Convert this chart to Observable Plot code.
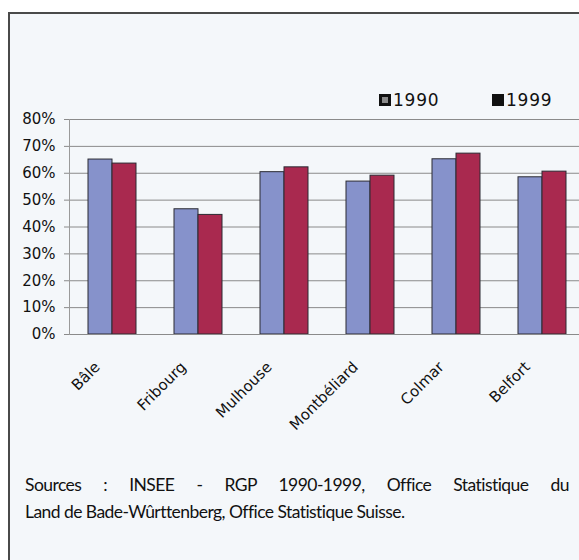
<!DOCTYPE html>
<html>
<head>
<meta charset="utf-8">
<script src="https://cdn.jsdelivr.net/npm/d3@7"></script>
<script src="https://cdn.jsdelivr.net/npm/@observablehq/plot@0.6"></script>
<style>
  html, body { margin: 0; padding: 0; background: #ffffff; }
  #page { position: relative; width: 579px; height: 560px; overflow: hidden; background: #ffffff; }
  #frame { position: absolute; left: 8px; top: 12px; width: 600px; height: 600px;
           border-left: 2px solid #4a4a4a; border-top: 2px solid #4a4a4a; background: #f4f7fa; }
  #chart { position: absolute; left: 0; top: 0; }
  #chart g[aria-label*="fx-axis"], #chart g[aria-label*="fx-axis"] text { font-size: 15px !important; }
  #legend { position: absolute; top: 90px; left: 0; font-family: "DejaVu Sans", sans-serif; font-size: 17px; color: #111; }
  .item { position: absolute; white-space: nowrap; display: flex; align-items: center; line-height: 20px; letter-spacing: 0.8px; }
  .sw { display: inline-block; width: 12px; height: 12px; background: #111; margin-right: 2px; position: relative; }
  .sw.p::after { content: ""; position: absolute; left: 3px; top: 3px; width: 6px; height: 6px; background: #8a8a8a; }
  #caption { position: absolute; left: 25px; top: 471px; width: 544px; font-family: "Lato", "Open Sans", sans-serif;
             font-size: 17.5px; line-height: 27px; color: #111; letter-spacing: -0.55px; }
  #caption .l1 { text-align: justify; text-align-last: justify; white-space: nowrap; }
</style>
</head>
<body>
<div id="page">
  <div id="frame"></div>
  <div id="chart"></div>
  <div id="legend"></div>
  <div id="caption"><div class="l1">Sources : INSEE - RGP 1990-1999, Office Statistique du</div><div>Land de Bade-Wûrttenberg, Office Statistique Suisse.</div></div>
</div>
<script>
const cities = ["Bâle", "Fribourg", "Mulhouse", "Montbéliard", "Colmar", "Belfort"];
const years = ["1990", "1999"];
const values1990 = [65.1, 46.6, 60.4, 56.9, 65.2, 58.5];
const values1999 = [63.6, 44.5, 62.2, 59.1, 67.3, 60.6];
const yTicks = [0, 10, 20, 30, 40, 50, 60, 70, 80];
const colors = ["#8692cb", "#a9294f"];

const data = [];
cities.forEach((c, i) => {
  data.push({city: c, year: years[0], value: values1990[i]});
  data.push({city: c, year: years[1], value: values1999[i]});
});

const chart = Plot.plot({
  width: 579,
  height: 450,
  marginTop: 119,
  marginBottom: 116,
  marginLeft: 67,
  marginRight: -8,
  style: {background: "transparent", fontFamily: "DejaVu Sans, sans-serif", fontSize: "13px", color: "#111", overflow: "visible"},
  fx: {domain: cities, padding: 0, label: null},
  x: {domain: years, paddingInner: 0, paddingOuter: 0.73, axis: null},
  y: {domain: [0, 80], axis: null, label: null},
  color: {domain: years, range: colors},
  marks: [
    Plot.gridY(yTicks, {stroke: "#8a8a8a", strokeOpacity: 1, strokeWidth: 1}),
    Plot.barY(data, {fx: "city", x: "year", y: "value", fill: "year", stroke: "#2b2b33", strokeWidth: 1}),
    Plot.ruleY([0], {stroke: "#8a8a8a"}),
    Plot.frame({anchor: "left", facetAnchor: "left", stroke: "#9a9a9a"}),
    Plot.axisY(yTicks, {tickFormat: d => d + "%", fontSize: 15, tickSize: 5, tickPadding: 9, stroke: "#8a8a8a", label: null}),
    Plot.axisFx({anchor: "bottom", tickRotate: -45, tickSize: 0, tickPadding: 3, dx: -15, dy: 27, fontSize: 15, label: null})
  ]
});
document.getElementById("chart").appendChild(chart);

const legend = document.getElementById("legend");
const legendLeft = [379, 492];
years.forEach((y, i) => {
  const it = document.createElement("div");
  it.className = "item";
  it.style.left = legendLeft[i] + "px";
  it.innerHTML = `<span class="sw${i === 0 ? " p" : ""}"></span><span>${y}</span>`;
  legend.appendChild(it);
});
</script>
</body>
</html>
